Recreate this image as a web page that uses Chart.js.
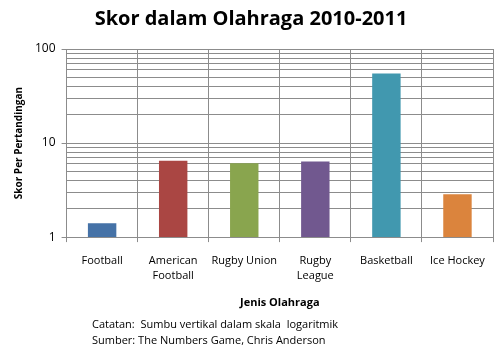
<!DOCTYPE html>
<html>
<head>
<meta charset="utf-8">
<script src="https://cdn.jsdelivr.net/npm/chart.js@4"></script>
<style>
  html, body { margin: 0; padding: 0; background: #fff; }
  #wrap { width: 501px; height: 351px; }
</style>
</head>
<body>
<div id="wrap"><canvas id="chart" width="501" height="351"></canvas></div>
<script>
// data
const categories = ['Football', ['American', 'Football'], 'Rugby Union', ['Rugby', 'League'], 'Basketball', 'Ice Hockey'];
const scores = [1.4, 6.5, 6.1, 6.35, 55, 2.85];
const barColors = ['#4572A7', '#AA4643', '#89A54E', '#71588F', '#4198AF', '#DB843D'];
const yTicks = [1, 2, 3, 4, 5, 6, 7, 8, 9, 10, 20, 30, 40, 50, 60, 70, 80, 90, 100];
const noteLines = ['Catatan:  Sumbu vertikal dalam skala  logaritmik', 'Sumber: The Numbers Game, Chris Anderson'];

const FONT = "'Open Sans', sans-serif";
const gridColor = '#8c8c8c';
const isDecade = v => [1, 10, 100].includes(v);

// draws the two note lines under the x axis title
const notesPlugin = {
    id: 'notes',
    afterDraw(chart) {
        const ctx = chart.ctx;
        ctx.save();
        ctx.font = '11px ' + FONT;
        ctx.fillStyle = '#000';
        ctx.textBaseline = 'middle';
        noteLines.forEach((t, i) => ctx.fillText(t, 92, 325 + i * 16));
        ctx.restore();
    }
};

new Chart(document.getElementById('chart'), {
    type: 'bar',
    data: {
        labels: categories,
        datasets: [{ data: scores, backgroundColor: barColors, borderWidth: 0, barPercentage: 0.4, categoryPercentage: 1 }]
    },
    options: {
        responsive: false, animation: false,
        layout: { padding: { left: 9, right: 8, top: 0, bottom: 38 } },
        plugins: {
            legend: { display: false }, tooltip: { enabled: false },
            title: { display: true, text: 'Skor dalam Olahraga 2010-2011', color: '#000', font: { family: FONT, size: 20, weight: 'bold' }, padding: { top: 7, bottom: 18 } }
        },
        scales: {
            x: {
                grid: { color: gridColor, offset: true, tickLength: 5, drawTicks: true },
                border: { color: gridColor },
                ticks: { color: '#000', font: { family: FONT, size: 11, lineHeight: 1.35 }, maxRotation: 0, autoSkip: false, padding: 11 },
                title: { display: true, text: 'Jenis Olahraga', color: '#000', font: { family: FONT, size: 11, weight: 'bold' }, padding: { top: 2 } }
            },
            y: {
                type: 'logarithmic', min: 1, max: 100,
                afterBuildTicks: axis => { axis.ticks = yTicks.map(v => ({ value: v })); },
                grid: { color: gridColor, tickLength: 5, tickColor: c => isDecade(c.tick.value) ? gridColor : 'rgba(0,0,0,0)' },
                border: { color: gridColor },
                ticks: { color: '#000', font: { family: FONT, size: 12 }, padding: 6, autoSkip: false, callback: v => isDecade(v) ? String(v) : '' },
                title: { display: true, text: 'Skor Per Pertandingan', color: '#000', font: { family: FONT, size: 10, weight: 'bold' }, padding: { bottom: 4 } }
            }
        }
    },
    plugins: [notesPlugin]
});
</script>
</body>
</html>
